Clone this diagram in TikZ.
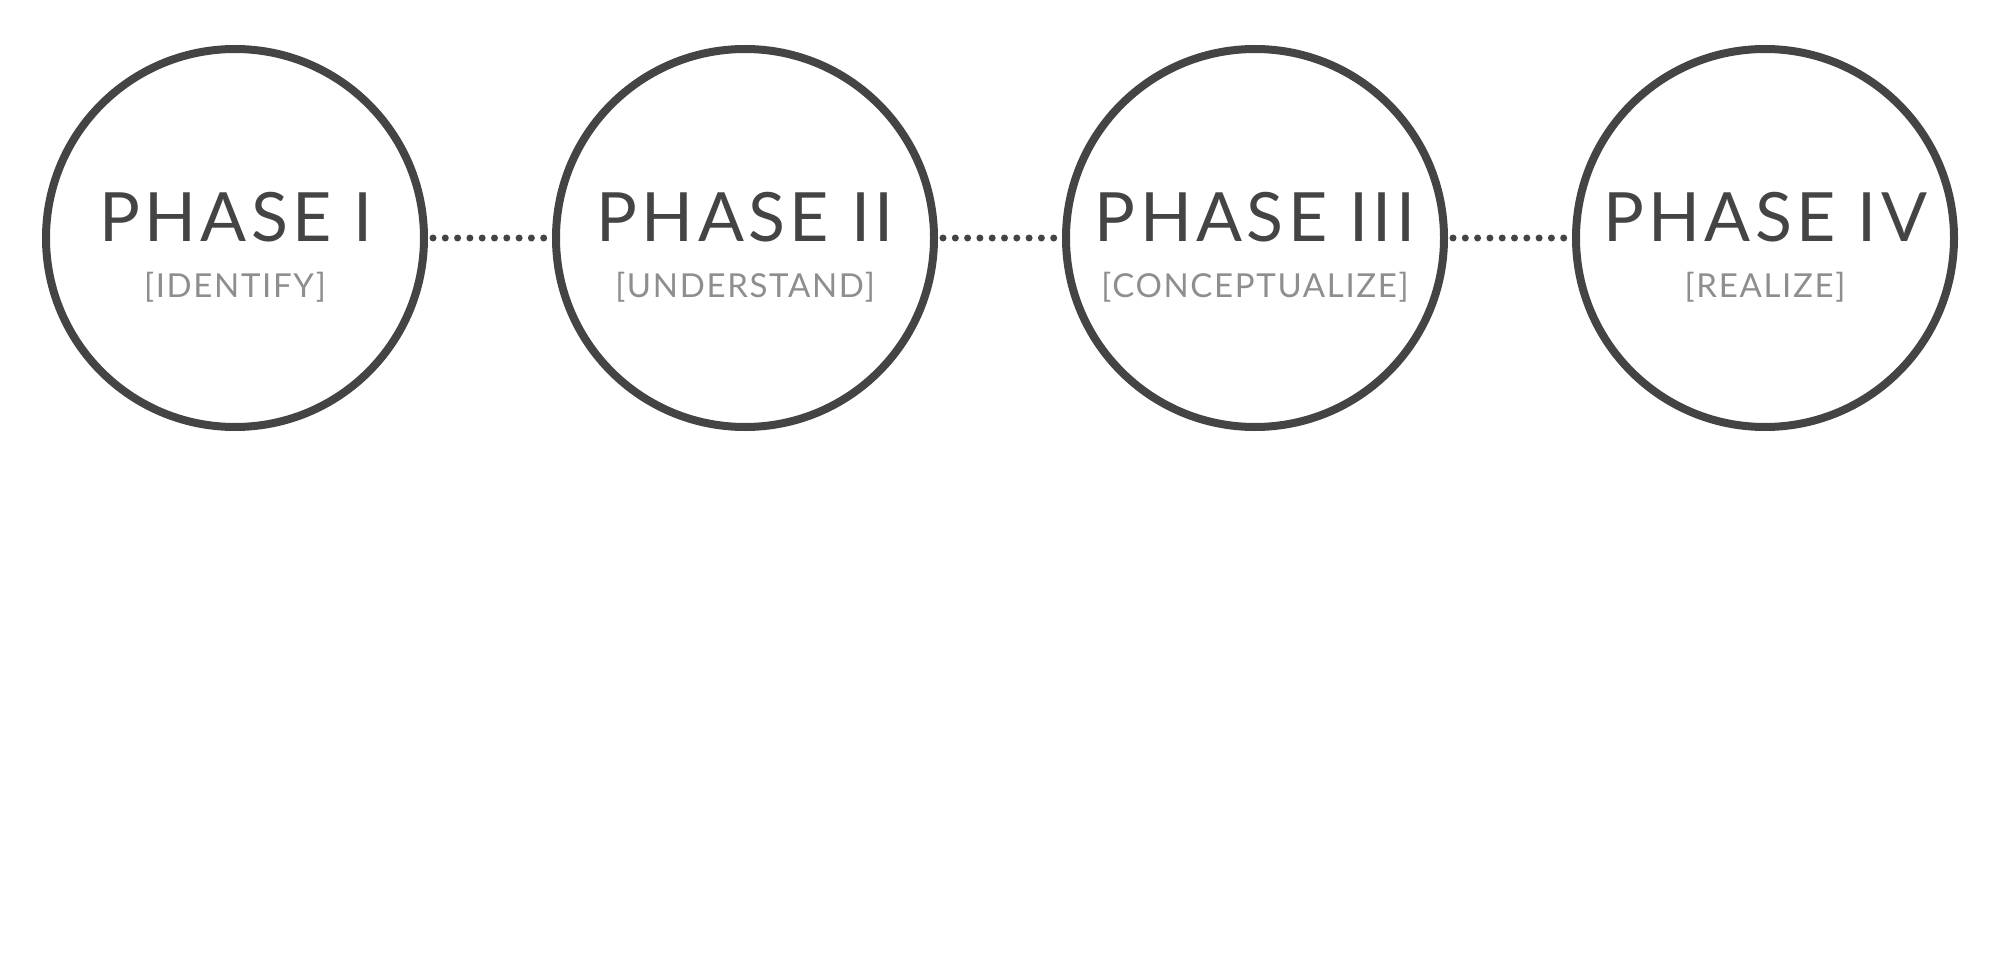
\documentclass[tikz,border=0pt]{standalone}
\usepackage{fontspec}
\setmainfont{Lato}
\newfontfamily\titlefont[LetterSpace=6.5]{Lato}
\newfontfamily\subfont[LetterSpace=5]{Lato}
\definecolor{ink}{HTML}{444444}
\definecolor{soft}{HTML}{8E8E8E}
\tikzset{
  phase/.style={circle, draw=ink, line width=8pt, minimum size=378pt, inner sep=0pt},
  ptitle/.style={text=ink, inner sep=0pt, anchor=base, font=\titlefont\fontsize{68}{68}\selectfont},
  psub/.style={text=soft, inner sep=0pt, anchor=base, font=\subfont\fontsize{33}{33}\selectfont},
  dotline/.style={draw=ink, line width=7pt, line cap=round, dash pattern=on 0pt off 12.3pt, shorten <=5pt, shorten >=8pt}
}
\begin{document}
\begin{tikzpicture}[x=1pt,y=-1pt]
\useasboundingbox (0,0) rectangle (2000,955);
\node[phase] (c1) at (235,238) {};
\node[phase] (c2) at (745,238) {};
\node[phase] (c3) at (1255,238) {};
\node[phase] (c4) at (1765,238) {};
\node[ptitle] (t1) at (236,241.5) {PHASE I};
\node[ptitle] (t2) at (745,241.5) {PHASE II};
\node[ptitle] (t3) at (1255,241.5) {PHASE III};
\node[ptitle] (t4) at (1765,241.5) {PHASE IV};
\node[psub] (s1) at (235,297) {[IDENTIFY]};
\node[psub] (s2) at (745,297) {[UNDERSTAND]};
\node[psub] (s3) at (1255,297) {[CONCEPTUALIZE]};
\node[psub] (s4) at (1765,297) {[REALIZE]};
\draw[dotline] (c1.east) -- (c2.west);
\draw[dotline] (c2.east) -- (c3.west);
\draw[dotline] (c3.east) -- (c4.west);
\end{tikzpicture}
\end{document}
